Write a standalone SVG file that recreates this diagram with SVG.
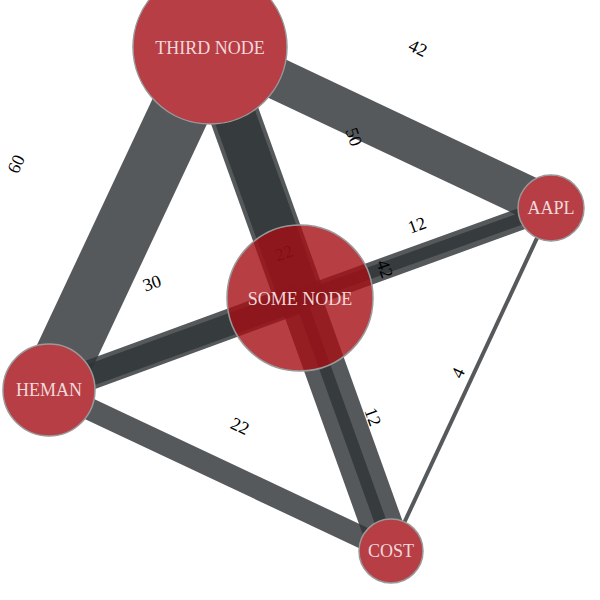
<svg xmlns="http://www.w3.org/2000/svg" width="600" height="600" viewBox="0 0 600 600">
<style>
.link{stroke:rgb(48,53,56);stroke-opacity:0.82;stroke-linecap:butt;fill:none}
.elabel{font-family:"Liberation Serif","Times New Roman",serif;font-size:18px;fill:#000;text-anchor:middle;dominant-baseline:central}
.node circle{fill:#b73e45;stroke:#999;stroke-width:1.5}
#node-some circle{fill:#a50f15;fill-opacity:0.8}
.node text{font-family:"Liberation Serif","Times New Roman",serif;font-size:18px;fill:#f2d8da;text-anchor:middle}
</style>
<rect width="600" height="600" fill="#fff"/>
<g id="connectors">
<line class="link" x1="210" y1="47" x2="49" y2="390" stroke-width="60"/>
<line class="link" x1="210" y1="47" x2="551" y2="208" stroke-width="42"/>
<line class="link" x1="210" y1="47" x2="300" y2="298" stroke-width="50"/>
<line class="link" x1="210" y1="47" x2="391" y2="551" stroke-width="42"/>
<line class="link" x1="49" y1="390" x2="391" y2="551" stroke-width="22"/>
<line class="link" x1="551" y1="208" x2="391" y2="551" stroke-width="4"/>
<line class="link" x1="49" y1="390" x2="300" y2="298" stroke-width="30"/>
<line class="link" x1="300" y1="298" x2="551" y2="208" stroke-width="12"/>
<line class="link" x1="300" y1="298" x2="391" y2="551" stroke-width="12"/>
<line class="link" x1="49" y1="390" x2="551" y2="208" stroke-width="22"/>
<text class="elabel" x="16" y="164" transform="rotate(-65 16 164)">60</text>
<text class="elabel" x="418" y="48" transform="rotate(25 418 48)">42</text>
<text class="elabel" x="354" y="137" transform="rotate(70 354 137)">50</text>
<text class="elabel" x="385" y="269" transform="rotate(70 385 269)">42</text>
<text class="elabel" x="240" y="426" transform="rotate(25 240 426)">22</text>
<text class="elabel" x="458" y="373" transform="rotate(-65 458 373)">4</text>
<text class="elabel" x="152" y="283" transform="rotate(-20 152 283)">30</text>
<text class="elabel" x="417" y="225" transform="rotate(-20 417 225)">12</text>
<text class="elabel" x="373" y="417" transform="rotate(70 373 417)">12</text>
<text class="elabel" x="284" y="253" transform="rotate(-20 284 253)">22</text>
</g>
<g id="node-third" class="node"><circle cx="210" cy="47" r="77"/><text x="210" y="54">THIRD NODE</text></g>
<g id="node-some" class="node"><circle cx="300" cy="298" r="73"/><text x="300" y="305">SOME NODE</text></g>
<g id="node-heman" class="node"><circle cx="49" cy="390" r="46"/><text x="49" y="396">HEMAN</text></g>
<g id="node-aapl" class="node"><circle cx="551" cy="208" r="33"/><text x="551" y="214">AAPL</text></g>
<g id="node-cost" class="node"><circle cx="391" cy="551" r="32"/><text x="391" y="557">COST</text></g>
</svg>
